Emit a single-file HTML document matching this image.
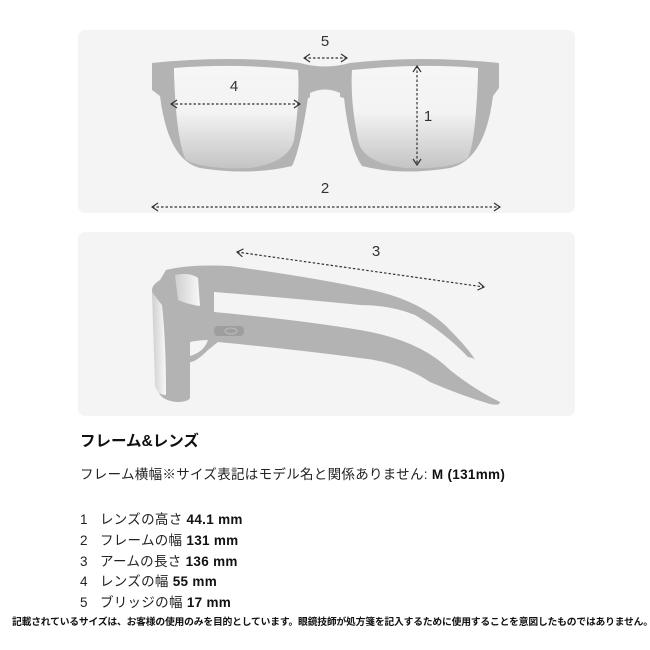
<!DOCTYPE html>
<html><head><meta charset="utf-8"><style>
body{margin:0;width:650px;height:650px;background:#fff;position:relative;font-family:"Liberation Sans","Noto Sans CJK JP",sans-serif;color:#222;overflow:hidden}
.t{position:absolute;white-space:nowrap}
.l{font-size:13.5px;letter-spacing:0.3px}
b{font-weight:bold;color:#111}
</style></head><body>
<svg width="650" height="420" style="position:absolute;left:0;top:0">
<defs>
<linearGradient id="lg" x1="0" y1="0" x2="0" y2="1">
<stop offset="0" stop-color="#f6f6f6"/><stop offset="0.45" stop-color="#f3f3f3"/><stop offset="1" stop-color="#c4c4c4"/></linearGradient>
<linearGradient id="sg" x1="0" y1="0" x2="1" y2="0">
<stop offset="0" stop-color="#cfcfcf"/><stop offset="1" stop-color="#f8f8f8"/></linearGradient>
<marker id="a" markerWidth="8" markerHeight="10" refX="7" refY="5" orient="auto-start-reverse" markerUnits="userSpaceOnUse"><path d="M1,1 L7,5 L1,9" fill="none" stroke="#333" stroke-width="1.2"/></marker>
</defs>
<rect x="78" y="30" width="497" height="183" rx="7" fill="#f4f4f4"/>
<rect x="78" y="232" width="497" height="184" rx="7" fill="#f4f4f4"/>
<path d="M152,63 Q230,55 300,63 Q325,70 350,63 Q420,55 499,63 L499,88 L493,96 Q485,160 450,168 Q400,176 362,166 Q350,150 344,98 Q325,92 308,98 Q300,150 292,166 Q250,176 200,168 Q168,160 160,96 L152,90 Z" fill="#b3b3b3"/>
<path d="M174,68 Q240,63 298,70 Q300,100 294,140 Q288,163 250,168 Q205,170 186,160 Q176,140 174,72 Z" fill="url(#lg)"/>
<path d="M352,70 Q420,63 478,68 L478,72 Q476,140 468,158 Q452,170 405,168 Q362,163 358,140 Q350,100 352,70 Z" fill="url(#lg)"/>
<path d="M310,93 Q325,86 340,93 L340,100 Q325,95 310,100 Z" fill="#f4f4f4"/>
<g stroke="#333" stroke-width="1.2" stroke-dasharray="2.5,2" fill="none">
<line x1="304" y1="58" x2="347" y2="58" marker-start="url(#a)" marker-end="url(#a)"/>
<line x1="171" y1="104" x2="300" y2="104" marker-start="url(#a)" marker-end="url(#a)"/>
<line x1="417" y1="66" x2="417" y2="165" marker-start="url(#a)" marker-end="url(#a)"/>
<line x1="152" y1="207" x2="500" y2="207" marker-start="url(#a)" marker-end="url(#a)"/>
<line x1="237" y1="252" x2="484" y2="287" marker-start="url(#a)" marker-end="url(#a)"/>
</g>
<g font-family="Liberation Sans,sans-serif" font-size="15" fill="#333" text-anchor="middle">
<text x="325" y="46">5</text><text x="234" y="91">4</text><text x="428" y="121">1</text><text x="325" y="193">2</text><text x="376" y="256">3</text>
</g>
<path d="M166,270 Q190,264 230,266 Q330,280 380,292 Q420,302 445,325 Q470,350 475,360 Q474,358 468,357 Q445,333 415,315 Q390,305 360,305 Q290,298 214,292 L214,312 Q300,320 360,330 Q420,340 450,370 Q475,390 500,402 Q500,406 490,404 Q460,395 430,382 Q400,362 360,358 Q300,350 218,342 L208,350 Q196,362 190,362 L190,398 Q188,402 176,402 Q160,400 158,390 L152,290 Q152,285 160,280 Z" fill="#b3b3b3"/>
<path d="M175,275 Q190,272 198,278 L200,306 Q190,305 178,300 Z" fill="url(#sg)"/>
<path d="M152,292 Q158,300 162,305 Q166,340 166,395 Q157,395 155,385 Z" fill="url(#sg)"/>
<path d="M190,342 Q200,340 208,340 Q204,352 190,356 Z" fill="#f4f4f4"/>
<rect x="214" y="326" width="30" height="10" rx="4" fill="#9e9e9e"/>
<ellipse cx="231" cy="331" rx="6" ry="3" fill="none" stroke="#bcbcbc" stroke-width="1"/>
</svg>
<div class="t" style="left:80px;top:429px;font-size:15.5px;font-weight:bold;color:#111">フレーム&amp;レンズ</div>
<div class="t l" style="left:80px;top:463px">フレーム横幅※サイズ表記はモデル名と関係ありません: <b>M (131mm)</b></div>
<div class="t l" style="left:80px;top:508px">1&nbsp;&nbsp;&nbsp;レンズの高さ <b>44.1 mm</b></div>
<div class="t l" style="left:80px;top:529px">2&nbsp;&nbsp;&nbsp;フレームの幅 <b>131 mm</b></div>
<div class="t l" style="left:80px;top:550px">3&nbsp;&nbsp;&nbsp;アームの長さ <b>136 mm</b></div>
<div class="t l" style="left:80px;top:570px">4&nbsp;&nbsp;&nbsp;レンズの幅 <b>55 mm</b></div>
<div class="t l" style="left:80px;top:591px">5&nbsp;&nbsp;&nbsp;ブリッジの幅 <b>17 mm</b></div>
<div class="t" style="left:12px;top:614px;font-size:9.8px;font-weight:bold;color:#111;letter-spacing:-0.2px">記載されているサイズは、お客様の使用のみを目的としています。眼鏡技師が処方箋を記入するために使用することを意図したものではありません。</div>
</body></html>
